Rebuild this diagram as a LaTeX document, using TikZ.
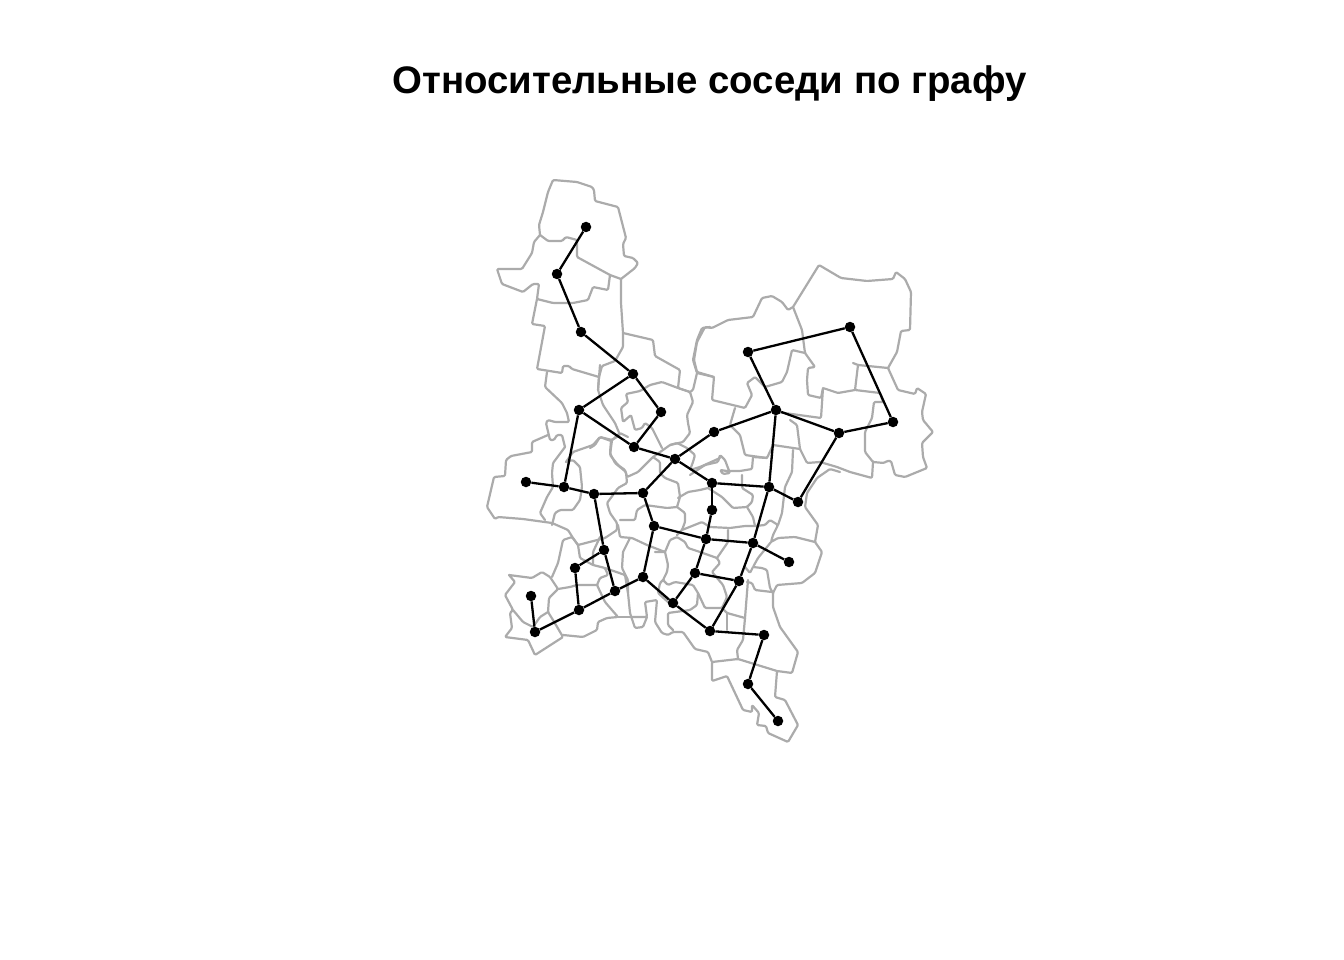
\documentclass[tikz,border=0pt]{standalone}
\usepackage{fontspec}
\setmainfont{Liberation Sans}
\definecolor{bordergray}{HTML}{ABABAB}
\tikzset{
  border/.style={draw=bordergray,line width=2.2pt,line join=round,line cap=round,rounded corners=1.2pt},
  link/.style={draw=black,line width=2.3pt},
  dot/.style={circle,fill=black,inner sep=0pt,minimum size=10.5pt},
}
\begin{document}
\begin{tikzpicture}[x=1pt,y=-1pt]
\useasboundingbox (0,0) rectangle (1344,960);
\node[font=\bfseries\fontsize{38.4}{42}\selectfont] (title) at (709.5,84) {Относительные соседи по графу};
% north
\draw[border] plot coordinates {(540,235) (539,225) (543,212) (548,192) (553,180) (577,182) (592,187) (594,190) (595,201) (618,207) (626,238) (623,244) (624,256) (633,258) (638,263) (635,268) (621,279)};
\draw[border] plot coordinates {(540,235) (548,241) (562,241) (566,237) (577,240) (577,257) (610,275) (621,279)};
\draw[border] plot coordinates {(540,235) (534,242) (532,253) (522,269) (497,269) (502,284) (523,292) (533,284) (539,284) (537,299) (553,303) (573,303) (588,300) (593,287) (608,290) (610,275)};
\draw[border] plot coordinates {(537,299) (532,324) (545,326) (537,369) (562,373) (563,366) (569,366) (572,369) (599,377)};
\draw[border] plot coordinates {(621,279) (621,303) (623,333) (623,347) (615,361) (602,366) (599,377) (598,390)};
\draw[border] plot coordinates {(623,333) (653,340) (655,356) (680,370) (678,388) (690,392)};
\draw[border] plot coordinates {(710,327) (702,328) (697,340) (693,360) (697,373) (714,377)};
\draw[border] plot coordinates {(697,373) (693,390) (690,392)};
\draw[border] plot coordinates {(547,372) (545,387) (562,403) (567,413) (569,422) (555,422) (548,420) (546,423) (550,440) (554,440) (557,435) (562,435) (565,447)};
% west
\draw[border] plot coordinates {(548,435) (532,442) (532,452) (511,456) (506,460) (505,476) (494,477) (487,507) (495,519) (498,517) (523,519) (552,523) (568,530) (573,538) (578,545)};
\draw[border] plot coordinates {(565,447) (553,463) (552,473) (553,487) (547,497) (540,513) (545,520)};
\draw[border] plot coordinates {(566,462) (573,460) (580,467) (582,487) (580,500) (573,510) (560,510) (555,513) (552,525)};
\draw[border] plot coordinates {(566,462) (573,452) (593,445) (600,437) (611,441) (620,433) (628,437)};
\draw[border] plot coordinates {(611,441) (610,453) (615,463) (626,472) (627,483) (618,488) (613,495) (607,503) (610,513) (617,523) (617,530) (605,538) (578,545)};
\draw[border] plot coordinates {(618,525) (620,537) (632,538) (647,545) (665,552)};
\draw[border] plot coordinates {(578,545) (580,558) (593,565) (605,568) (608,575) (600,578) (597,585) (605,602) (618,617) (607,618) (598,622) (597,630) (583,637) (563,635)};
\draw[border] plot coordinates {(600,537) (593,552) (593,565)};
% centre north
\draw[border] plot coordinates {(600,365) (598,390) (603,405) (615,423) (620,435) (612,440) (600,437) (595,445) (590,448)};
\draw[border] plot coordinates {(612,440) (610,455) (618,465) (625,470) (627,477) (638,472) (653,457) (663,450) (670,445) (683,442) (690,433) (688,423) (687,415) (693,402) (690,392) (678,388) (662,382) (650,385) (640,391) (626,394) (628,402) (621,408) (623,422) (631,415) (635,430) (642,428) (645,423) (652,428) (662,448)};
\draw[border] plot coordinates {(653,457) (660,462) (660,473) (665,478) (678,483) (680,497) (677,507)};
\draw[border] plot coordinates {(670,445) (677,443) (687,448) (695,455) (693,462) (690,470) (700,467) (720,458)};
\draw[border] plot coordinates {(678,498) (688,492) (700,490) (708,488)};
\draw[border] plot coordinates {(690,475) (705,465) (718,462) (720,455) (725,460) (728,468) (730,473) (723,474) (720,470) (727,471) (740,471) (752,469) (753,457)};
\draw[border] plot coordinates {(742,475) (742,488) (753,495) (752,502) (747,507) (733,508) (722,497) (708,488)};
% north east
\draw[border] plot coordinates {(793,307) (819,265) (841,278) (867,281) (893,279) (896,272) (905,279) (911,292) (910,330) (901,331) (897,352) (888,368) (898,390) (915,394) (917,388) (926,394) (922,412) (923,420) (933,432) (922,443) (923,457) (927,468) (905,477) (895,475) (891,461) (887,461) (884,463) (873,462) (865,452) (865,432) (872,418) (874,402) (883,402)};
\draw[border] plot coordinates {(853,363) (858,365) (888,368)};
\draw[border] plot coordinates {(858,365) (855,390) (880,393) (883,402)};
\draw[border] plot coordinates {(855,390) (838,393) (823,388) (821,398) (808,395) (807,380) (808,368) (815,367) (805,353) (802,330) (793,307)};
\draw[border] plot coordinates {(805,353) (792,350) (787,372) (782,382) (765,387) (755,377) (747,383) (752,395) (745,408) (712,400) (714,377) (697,372) (694,360) (697,342) (705,327) (712,328) (728,320) (753,317) (762,298) (772,296) (782,302) (788,310) (793,307)};
\draw[border] plot coordinates {(823,388) (821,418) (777,412)};
\draw[border] plot coordinates {(790,420) (797,425) (800,449) (807,463) (820,462)};
\draw[border] plot coordinates {(735,408) (730,425) (740,435) (745,455) (767,458) (773,445) (800,449)};
\draw[border] plot coordinates {(793,450) (792,472) (785,487) (782,513) (778,525)};
\draw[border] plot coordinates {(820,462) (837,467) (850,472) (872,478) (873,462)};
\draw[border] plot coordinates {(753,457) (767,458)};
% east and south
\draw[border] plot coordinates {(840,472) (830,469) (817,478) (807,493) (805,507) (818,525) (815,542) (822,552) (815,573) (802,583) (777,585) (773,593) (773,607) (780,627) (798,652) (792,673) (777,671) (775,697) (785,700) (798,725) (788,742) (768,733) (766,726) (757,725) (759,713) (752,705) (752,712) (743,710) (727,676) (712,681) (712,662) (738,659) (777,671)};
\draw[border] plot coordinates {(712,662) (708,652) (695,649) (683,632) (673,632) (668,635) (662,633) (655,622) (657,600) (645,602) (647,617) (630,617)};
\draw[border] plot coordinates {(738,659) (737,650) (743,640) (745,618) (748,580)};
\draw[border] plot coordinates {(747,582) (752,583) (755,590) (772,592)};
\draw[border] plot coordinates {(747,507) (753,517) (755,526)};
\draw[border] plot coordinates {(710,527) (730,528) (745,526) (755,526) (765,525) (770,520) (778,525) (773,535) (771,542) (778,538) (795,537) (815,542)};
\draw[border] plot coordinates {(771,542) (758,558) (753,567) (762,568) (767,570) (770,588) (773,593)};
\draw[border] plot coordinates {(745,567) (750,573) (753,567)};
% centre south
\draw[border] plot coordinates {(620,520) (635,520) (637,510) (645,505) (667,508) (677,507)};
\draw[border] plot coordinates {(677,507) (685,513) (685,522) (682,530) (677,535)};
\draw[border] plot coordinates {(682,530) (702,522) (710,527)};
\draw[border] plot coordinates {(655,552) (665,552) (670,540) (677,537) (685,542) (688,548) (700,552) (717,558) (720,563) (712,572) (723,585) (727,597) (722,608) (705,608) (698,593) (693,585) (675,582) (668,585) (663,580) (667,572) (668,565) (665,552)};
\draw[border] plot coordinates {(728,530) (728,542) (717,558)};
\draw[border] plot coordinates {(663,580) (660,583) (658,593) (668,602)};
\draw[border] plot coordinates {(698,593) (697,605) (690,610) (668,613) (668,625) (673,630)};
\draw[border] plot coordinates {(722,608) (727,613) (745,618)};
\draw[border] plot coordinates {(727,613) (727,630)};
\draw[border] plot coordinates {(623,552) (622,568) (628,580) (628,593) (630,613) (635,628) (643,627) (647,617)};
\draw[border] plot coordinates {(630,538) (623,552)};
% south west
\draw[border] plot coordinates {(509,575) (515,582) (505,595) (513,610) (510,613) (512,628) (505,637) (528,640) (535,655) (563,637) (553,620) (548,612) (549,598) (558,589) (550,577) (542,572) (532,578) (509,575)};
\draw[border] plot coordinates {(558,589) (570,587) (577,585) (597,585)};
\draw[border] plot coordinates {(552,577) (558,563) (563,540) (572,537) (578,545)};
\draw[border] plot coordinates {(513,610) (523,622) (533,627) (540,617) (548,612)};
\draw[border] plot coordinates {(618,617) (630,617)};
\draw[border] plot coordinates {(605,568) (625,575) (628,593)};
% points
\foreach \name/\px/\py in {a/586/227,b/557/274,c/581/332,d/633/374,e/579/410,f/661/412,g/634/447,h/675/459,i/714/432,j/776/410,k/748/352,l/850/327,m/893/422,o/839/433,p/798/502,q/769/487,r/712/483,s/712/510,t/706/539,u/753/543,v/789/562,w/739/581,x/695/573,y/673/603,z/710/631,aa/764/635,ab/748/684,ac/778/721,ad/643/577,ae/654/526,af/643/493,ag/594/494,ah/564/487,ai/526/482,aj/604/550,ak/575/568,al/615/591,am/579/610,an/535/632,ao/531/596}
  \node[dot] (\name) at (\px,\py) {};
\foreach \from/\to in {a/b,b/c,c/d,d/e,d/f,e/g,f/g,e/ah,ah/ai,ah/ag,ag/af,af/h,g/h,h/i,h/r,i/j,j/k,k/l,l/m,m/o,o/j,o/p,p/q,j/q,q/r,r/s,s/t,t/ae,ae/af,t/u,q/u,u/v,u/w,w/x,x/t,x/y,y/ad,ad/ae,y/z,w/z,z/aa,aa/ab,ab/ac,ad/al,al/am,am/an,an/ao,al/aj,aj/ak,ak/am,aj/ag}
  \draw[link] (\from) -- (\to);
\end{tikzpicture}
\end{document}
